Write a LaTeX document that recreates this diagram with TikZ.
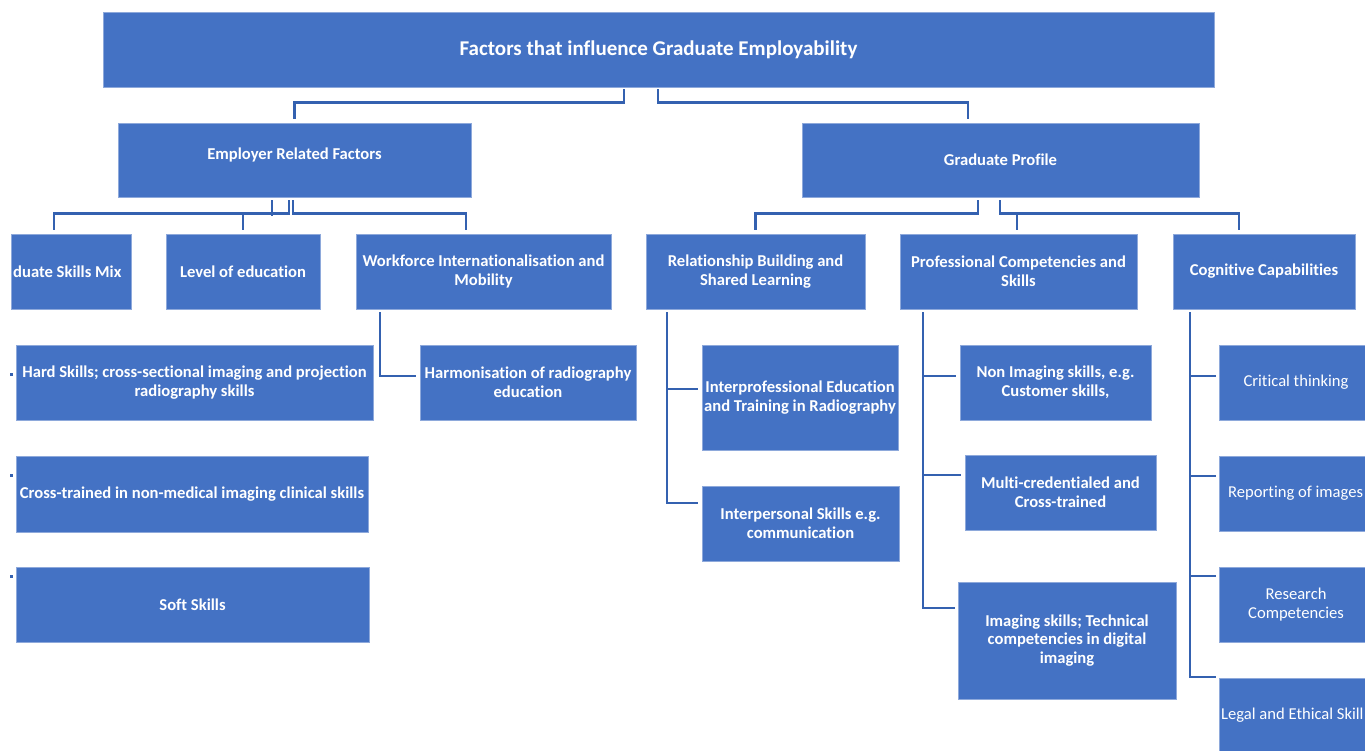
\documentclass[tikz,border=0pt]{standalone}
\usepackage{fontspec}
\setmainfont{Carlito}[Ligatures=NoCommon]
\definecolor{boxblue}{HTML}{4472C4}
\definecolor{boxedge}{HTML}{8EA9DB}
\definecolor{linkblue}{HTML}{3461B0}
\tikzset{
  box/.style={rectangle, fill=boxblue, draw=boxedge, line width=0.8pt, inner sep=0pt,
    text=white, align=center, font=\bfseries\fontsize{16.6}{18.6}\selectfont},
  plainbox/.style={box, font=\fontsize{16.6}{18.6}\selectfont},
  txt/.style={text=white, inner sep=0pt, font=\bfseries\fontsize{16.6}{18.6}\selectfont},
  plaintxt/.style={txt, font=\fontsize{16.6}{18.6}\selectfont},
  conn/.style={draw=linkblue, line width=2.3pt, line cap=rect}
}
\begin{document}
\begin{tikzpicture}[x=1pt, y=-1pt]
\useasboundingbox (0,0) rectangle (1365,750);
\begin{scope}
\clip (0,0) rectangle (1365,750);

% top level
\node[box, minimum width=1111, minimum height=75, font=\bfseries\fontsize{21}{24}\selectfont]
  (title) at (658.5,49.5) {Factors that influence Graduate Employability};

% second level
\node[box, minimum width=353, minimum height=74] (emp) at (294.5,160) {\raisebox{12pt}{Employer Related Factors}};
\node[box, minimum width=397, minimum height=74] (grad) at (1000.5,160) {Graduate Profile};

% employer related factors
\node[box, minimum width=120, minimum height=75] (mix) at (71,271.5) {};
\node[txt, anchor=west] (mixtxt) at (13,271.5) {duate Skills Mix};
\node[box, minimum width=154, minimum height=75] (lvl) at (243,271.5) {Level of education};
\node[box, minimum width=255, minimum height=75] (wf) at (483.5,271.5) {Workforce Internationalisation and\\Mobility};

\node[box, minimum width=357, minimum height=75] (hard) at (194.5,382.5) {Hard Skills; cross-sectional imaging and projection\\radiography skills};
\node[box, minimum width=352, minimum height=76] (cross) at (192,494) {Cross-trained in non-medical imaging clinical skills};
\node[box, minimum width=353, minimum height=75] (soft) at (192.5,604.5) {Soft Skills};
\node[box, minimum width=216, minimum height=75] (harm) at (528,382.5) {Harmonisation of radiography\\education};

% graduate profile
\node[box, minimum width=219, minimum height=75] (rel) at (755.5,271.5) {Relationship Building and\\Shared Learning};
\node[box, minimum width=237, minimum height=75] (prof) at (1018.5,271.5) {Professional Competencies and\\Skills};
\node[box, minimum width=182, minimum height=75] (cog) at (1264,271.5) {Cognitive Capabilities};

\node[box, minimum width=196, minimum height=105] (ipe) at (800,397.5) {Interprofessional Education\\and Training in Radiography};
\node[box, minimum width=197, minimum height=75] (ips) at (800.5,523.5) {Interpersonal Skills e.g.\\communication};

\node[box, minimum width=191, minimum height=75] (nonimg) at (1055.5,382.5) {Non Imaging skills, e.g.\\Customer skills,};
\node[box, minimum width=191, minimum height=75] (multi) at (1060.5,492.5) {Multi-credentialed and\\Cross-trained};
\node[box, minimum width=218, minimum height=117] (img) at (1067,640.5) {Imaging skills; Technical\\competencies in digital\\imaging};

\node[plainbox, minimum width=154, minimum height=75] (crit) at (1296,382.5) {Critical thinking};
\node[plainbox, minimum width=154, minimum height=75] (rep) at (1296,493.5) {};
\node[plaintxt, anchor=west] (reptxt) at (1228,493.5) {Reporting of images};
\node[plainbox, minimum width=154, minimum height=75] (res) at (1296,604.5) {Research\\Competencies};
\node[plainbox, minimum width=154, minimum height=75] (legal) at (1296,715.5) {};
\node[plaintxt, anchor=west] (legaltxt) at (1221,715.5) {Legal and Ethical Skill};

% stray bullet marks beside the left column
\fill[linkblue] (10.3,372.5) rectangle ++(3,3);
\fill[linkblue] (10.3,474.2) rectangle ++(3,3);
\fill[linkblue] (10.3,575.2) rectangle ++(3,3);

% connectors from the title
\draw[conn] ([xshift=-34.5,yshift=-3]title.south) |- ([yshift=20]emp.north) -- ([yshift=5]emp.north);
\draw[conn] ([xshift=-0.5,yshift=-3]title.south) |- ([xshift=-32.5,yshift=20]grad.north) -- ([xshift=-32.5,yshift=5]grad.north);

% connectors under employer related factors
\draw[conn] ([xshift=-22.5,yshift=-4]emp.south) -- ([xshift=-22.5,yshift=-17]emp.south);
\draw[conn] ([xshift=-5.5,yshift=-4]emp.south) |- ([xshift=-17,yshift=20]mix.north) -- ([xshift=-17,yshift=5]mix.north);
\draw[conn] ([yshift=20]lvl.north) -- ([yshift=5]lvl.north);
\draw[conn] ([xshift=-1.5,yshift=-4]emp.south) |- ([xshift=-17.5,yshift=20]wf.north) -- ([xshift=-17.5,yshift=5]wf.north);
\draw[conn] ([xshift=-103.5,yshift=-4]wf.south) |- ([xshift=-5,yshift=6.5]harm.west);

% connectors under graduate profile
\draw[conn] ([xshift=-22.5,yshift=-4]grad.south) |- ([yshift=20]rel.north) -- ([yshift=5]rel.north);
\draw[conn] ([xshift=-0.5,yshift=-4]grad.south) |- ([xshift=-25,yshift=20]cog.north) -- ([xshift=-25,yshift=5]cog.north);
\draw[conn] ([xshift=-1.5,yshift=20]prof.north) -- ([xshift=-1.5,yshift=5]prof.north);

\draw[conn] ([xshift=-88.5,yshift=-4]rel.south) |- ([xshift=-5,yshift=20.5]ips.west);
\draw[conn] ([xshift=-5,yshift=8.5]ipe.west) -| ([xshift=-88.5,yshift=-4]rel.south);

\draw[conn] ([xshift=-95.5,yshift=-4]prof.south) |- ([xshift=-4,yshift=32.5]img.west);
\draw[conn] ([xshift=-5,yshift=6.5]nonimg.west) -| ([xshift=-95.5,yshift=-4]prof.south);
\draw[conn] ([xshift=-5,yshift=17.5]multi.west) -| ([xshift=-95.5,yshift=-4]prof.south);

\draw[conn] ([xshift=-74,yshift=-4]cog.south) |- ([xshift=-4,yshift=38.5]legal.west);
\draw[conn] ([xshift=-4,yshift=6.5]crit.west) -| ([xshift=-74,yshift=-4]cog.south);
\draw[conn] ([xshift=-4,yshift=17.5]rep.west) -| ([xshift=-74,yshift=-4]cog.south);
\draw[conn] ([xshift=-4,yshift=28.5]res.west) -| ([xshift=-74,yshift=-4]cog.south);
\end{scope}
\end{tikzpicture}
\end{document}
